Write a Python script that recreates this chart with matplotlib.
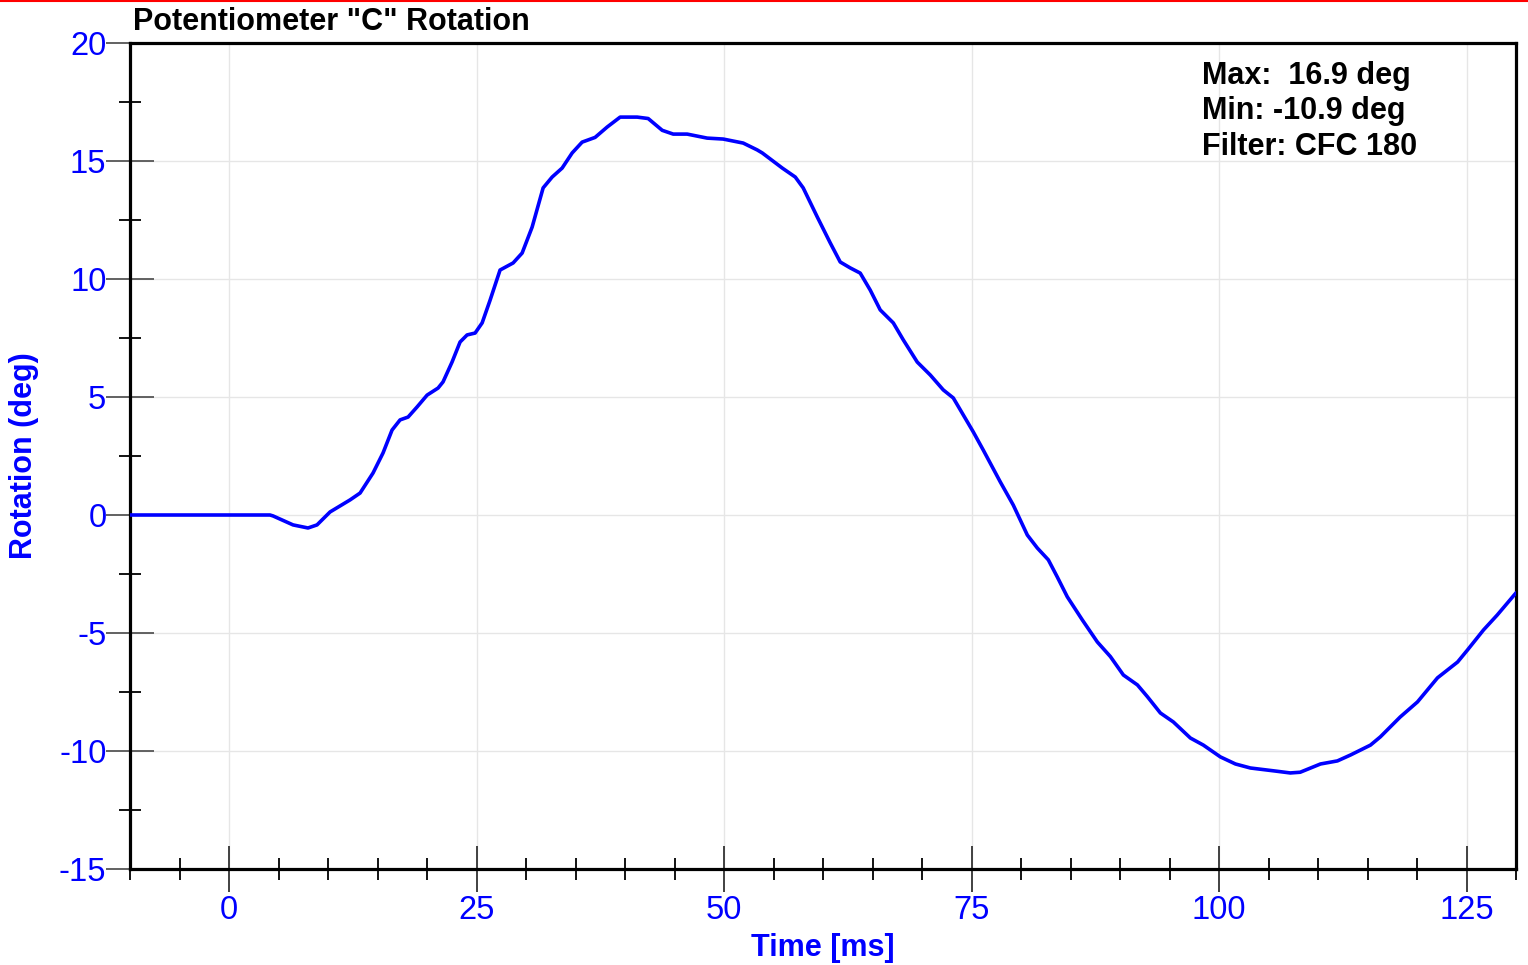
import matplotlib
matplotlib.use("Agg")
import matplotlib.pyplot as plt
from matplotlib.ticker import MultipleLocator
from matplotlib.lines import Line2D

plt.rcParams['font.family'] = ['Liberation Sans', 'DejaVu Sans']
plt.rcParams['axes.unicode_minus'] = False

time_ms = [-10, 0, 4.14, 4.45, 6.47, 7.98, 8.89, 10.21, 12.23, 13.24, 14.55, 15.56, 16.47,
           17.28, 18.09, 19.0, 20.01, 21.12, 21.62, 22.53, 23.34, 24.05, 24.86, 25.57,
           26.37, 27.38, 28.7, 29.61, 30.62, 31.73, 32.64, 33.65, 34.66, 35.67, 36.98,
           38.2, 39.51, 41.23, 42.34, 43.76, 44.87, 46.28, 48.3, 49.92, 51.94, 53.35,
           53.87, 55.89, 57.2, 58.0, 59.42, 60.73, 61.74, 62.75, 63.76, 64.77, 65.78,
           67.1, 68.11, 69.52, 70.84, 72.15, 73.16, 74.17, 75.18, 76.19, 77.91, 79.22,
           80.64, 81.65, 82.76, 83.67, 84.68, 86.2, 87.71, 89.03, 90.34, 91.76, 92.77,
           94.08, 95.39, 97.11, 98.42, 100.14, 101.66, 103.17, 105.7, 107.2, 108.2,
           110.25, 111.96, 113.28, 115.3, 116.3, 118.3, 120.05, 122.07, 124.1, 125.1,
           126.72, 128.1, 130]
rotation_deg = [0, 0, 0, -0.04, -0.42, -0.55, -0.42, 0.13, 0.64, 0.93, 1.78, 2.63, 3.6,
                4.03, 4.15, 4.58, 5.08, 5.38, 5.64, 6.48, 7.33, 7.63, 7.71, 8.14,
                9.1, 10.38, 10.68, 11.1, 12.2, 13.86, 14.32, 14.7, 15.34, 15.8, 16.0,
                16.44, 16.86, 16.86, 16.8, 16.3, 16.14, 16.14, 15.97, 15.93, 15.76, 15.47,
                15.34, 14.7, 14.32, 13.86, 12.63, 11.53, 10.72, 10.47, 10.25, 9.53, 8.69,
                8.14, 7.42, 6.48, 5.93, 5.3, 4.96, 4.24, 3.52, 2.75, 1.4, 0.42,
                -0.85, -1.4, -1.9, -2.63, -3.47, -4.45, -5.38, -6.0, -6.78, -7.2, -7.7,
                -8.39, -8.77, -9.45, -9.75, -10.25, -10.55, -10.72, -10.85, -10.93, -10.9,
                -10.55, -10.42, -10.17, -9.75, -9.4, -8.56, -7.92, -6.9, -6.23, -5.72,
                -4.87, -4.24, -3.3]

x_ticks = [0, 25, 50, 75, 100, 125]
y_ticks = [-15, -10, -5, 0, 5, 10, 15, 20]
title = 'Potentiometer "C" Rotation'
stats_text = "Max:  16.9 deg\nMin: -10.9 deg\nFilter: CFC 180"

blue = (0, 0, 1)
fig = plt.figure(figsize=(15.28, 9.65), dpi=100)
ax = fig.add_axes([130/1528, 1-869/965, 1386/1528, 826/965])
ax.plot(time_ms, rotation_deg, color=blue, lw=2.6, solid_joinstyle='round',
        solid_capstyle='round', zorder=3)
ax.set_xlim(-10, 130)
ax.set_ylim(-15, 20)
ax.set_xticks(x_ticks)
ax.set_yticks(y_ticks)
ax.xaxis.set_minor_locator(MultipleLocator(5))
ax.yaxis.set_minor_locator(MultipleLocator(2.5))
ax.grid(True, which='major', color='#e6e6e6', lw=1.0, zorder=0)
for s in ax.spines.values():
    s.set_linewidth(2.3)
    s.set_color('black')
ax.tick_params(axis='x', which='major', direction='inout', length=33, width=1.3,
               color='#333333', labelsize=23.5, labelcolor=blue, pad=2)
ax.tick_params(axis='x', which='minor', direction='inout', length=16, width=1.3, color='black')
ax.tick_params(axis='y', which='major', direction='inout', length=34, width=1.3,
               color='#555555', labelsize=23.5, labelcolor=blue, pad=0)
ax.tick_params(axis='y', which='minor', direction='inout', length=16, width=1.3, color='black')
ax.set_xlabel("Time [ms]", fontsize=22, fontweight='bold', color=blue, labelpad=5)
ax.set_ylabel("Rotation (deg)", fontsize=22, fontweight='bold', color=blue, labelpad=14)
ax.text(0.7735, 0.978, stats_text, transform=ax.transAxes, ha='left', va='top',
        fontsize=22, fontweight='bold', color='black', linespacing=1.23)
fig.text(133/1528, 1-22/965, title, ha='left', va='center', fontsize=22,
         fontweight='bold', color='black')
fig.add_artist(Line2D([0, 1], [1-1/965, 1-1/965], color='red', lw=1.5,
                      transform=fig.transFigure))
fig.savefig("out.png", dpi=100)
